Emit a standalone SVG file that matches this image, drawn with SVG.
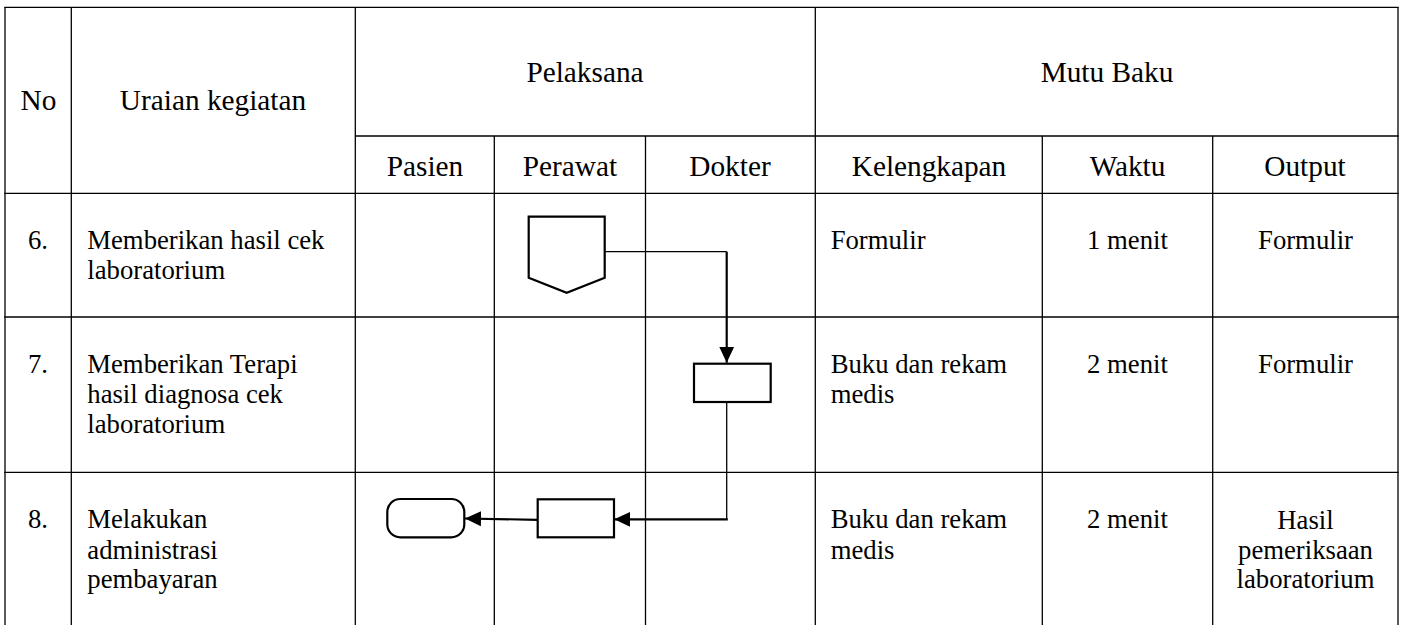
<svg xmlns="http://www.w3.org/2000/svg" width="1406" height="625" viewBox="0 0 1406 625" font-family="'Liberation Serif', 'Times New Roman', serif">
<style>
.grid line{stroke:#000;stroke-width:1.3}
text{font-family:'Liberation Serif','Times New Roman',serif;fill:#000}
.h{font-size:29.3px;text-anchor:middle}
.b{font-size:26.7px}
.c{text-anchor:middle}
.shape{fill:#fff;stroke:#000;stroke-width:2.2}
.thin{fill:none;stroke:#000;stroke-width:1.3}
.thick{fill:none;stroke:#000;stroke-width:2.2}
</style>
<defs>
<marker id="ah" markerUnits="userSpaceOnUse" markerWidth="17" markerHeight="17" refX="16" refY="8" orient="auto">
<path d="M0,0.5 L16,8 L0,15.5 Z" fill="#000"/>
</marker>
</defs>
<rect width="1406" height="625" fill="#fff"/>
<g id="grid" class="grid">
<line x1="4.3" y1="7.3" x2="1398.7" y2="7.3"/>
<line x1="355.3" y1="136" x2="1398.7" y2="136"/>
<line x1="4.3" y1="193.3" x2="1398.7" y2="193.3"/>
<line x1="4.3" y1="317" x2="1398.7" y2="317"/>
<line x1="4.3" y1="472.3" x2="1398.7" y2="472.3"/>
<line x1="5" y1="7.3" x2="5" y2="625"/>
<line x1="71.3" y1="7.3" x2="71.3" y2="625"/>
<line x1="355.3" y1="7.3" x2="355.3" y2="625"/>
<line x1="815.3" y1="7.3" x2="815.3" y2="625"/>
<line x1="1398" y1="7.3" x2="1398" y2="625"/>
<line x1="494.3" y1="136" x2="494.3" y2="625"/>
<line x1="645.5" y1="136" x2="645.5" y2="625"/>
<line x1="1042.3" y1="136" x2="1042.3" y2="625"/>
<line x1="1212.7" y1="136" x2="1212.7" y2="625"/>
</g>
<g id="header">
<text class="h" x="38.5" y="110">No</text>
<text class="h" x="213" y="110">Uraian kegiatan</text>
<text class="h" x="585" y="82">Pelaksana</text>
<text class="h" x="1107" y="82">Mutu Baku</text>
<text class="h" x="425" y="175.5">Pasien</text>
<text class="h" x="570" y="175.5">Perawat</text>
<text class="h" x="730" y="175.5">Dokter</text>
<text class="h" x="929" y="175.5">Kelengkapan</text>
<text class="h" x="1127.5" y="175.5">Waktu</text>
<text class="h" x="1305" y="175.5">Output</text>
</g>
<g id="row6">
<text class="b c" x="38" y="249">6.</text>
<text class="b" x="87.3" y="248.5">Memberikan hasil cek</text>
<text class="b" x="87.3" y="279.3">laboratorium</text>
<text class="b" x="830.7" y="249.3">Formulir</text>
<text class="b c" x="1127.5" y="249.3">1 menit</text>
<text class="b c" x="1305.5" y="249.3">Formulir</text>
</g>
<g id="row7">
<text class="b c" x="38" y="372.7">7.</text>
<text class="b" x="87.3" y="372.7">Memberikan Terapi</text>
<text class="b" x="87.3" y="402.9">hasil diagnosa cek</text>
<text class="b" x="87.3" y="433.3">laboratorium</text>
<text class="b" x="830.7" y="372.7">Buku dan rekam</text>
<text class="b" x="830.7" y="402.7">medis</text>
<text class="b c" x="1127.5" y="372.7">2 menit</text>
<text class="b c" x="1305.5" y="372.7">Formulir</text>
</g>
<g id="row8">
<text class="b c" x="38" y="528.3">8.</text>
<text class="b" x="87.3" y="528.3">Melakukan</text>
<text class="b" x="87.3" y="558.8">administrasi</text>
<text class="b" x="87.3" y="588.3">pembayaran</text>
<text class="b" x="830.7" y="528.3">Buku dan rekam</text>
<text class="b" x="830.7" y="558.7">medis</text>
<text class="b c" x="1127.5" y="528.3">2 menit</text>
<text class="b c" x="1305.5" y="528.8">Hasil</text>
<text class="b c" x="1305.5" y="558.5">pemeriksaan</text>
<text class="b c" x="1305.5" y="588.3">laboratorium</text>
</g>
<g id="connectors">
<path class="thin" d="M604.7,251.7 H726.7"/>
<path class="thick" d="M726.7,251.7 V362.7" marker-end="url(#ah)"/>
<path class="thin" d="M726.7,402 V519.3"/>
<path class="thick" d="M727.8,519.3 H614.3" marker-end="url(#ah)"/>
<path class="thick" d="M537.7,519.8 L465,518.5" marker-end="url(#ah)"/>
</g>
<g id="node-offpage">
<polygon class="shape" points="528.7,216.7 604.7,216.7 604.7,277.7 566.7,292.7 528.7,277.7"/>
</g>
<g id="node-process1">
<rect class="shape" x="694" y="363.7" width="76.7" height="38.3"/>
</g>
<g id="node-process2">
<rect class="shape" x="537.7" y="499.3" width="76.3" height="38"/>
</g>
<g id="node-terminator">
<rect class="shape" x="387.3" y="499" width="77" height="38.3" rx="13" ry="13"/>
</g>
</svg>
